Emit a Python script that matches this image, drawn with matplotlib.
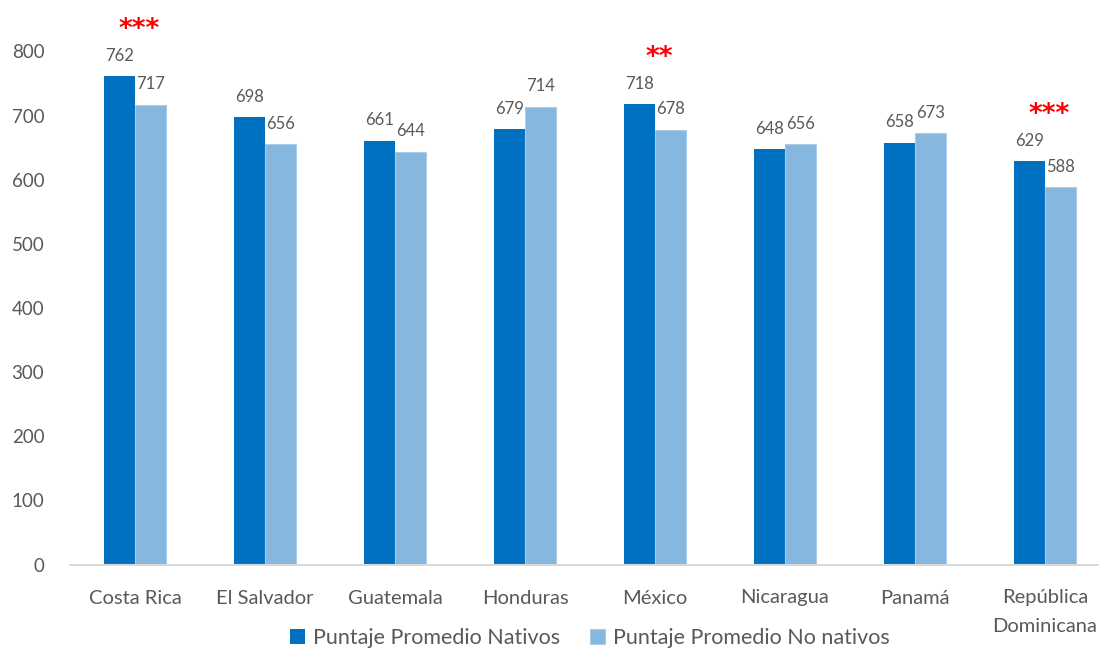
import matplotlib.pyplot as plt
import numpy as np

# Data
countries = ['Costa Rica', 'El Salvador', 'Guatemala', 'Honduras', 'México',
             'Nicaragua', 'Panamá', 'República\nDominicana']
nativos = [762, 698, 661, 679, 718, 648, 658, 629]
no_nativos = [717, 656, 644, 714, 678, 656, 673, 588]
stars = ['***', '', '', '', '**', '', '', '***']
series_names = ['Puntaje Promedio Nativos', 'Puntaje Promedio No nativos']

plt.rcParams['font.family'] = ['Lato', 'DejaVu Sans']
text_color = '#595959'

fig = plt.figure(figsize=(10.99, 6.52), dpi=100)
ax = fig.add_axes([70 / 1099, 87.5 / 652, 1040 / 1099, 513 / 652])

x = np.arange(len(countries))
w = 0.24
b1 = ax.bar(x - w / 2, nativos, w, color='#0070C0', label=series_names[0])
b2 = ax.bar(x + w / 2, no_nativos, w, color='#85B7DF', edgecolor='#A9CDEB',
            linewidth=0.8, label=series_names[1])

# data labels
for bars, vals in [(b1, nativos), (b2, no_nativos)]:
    for rect, v in zip(bars, vals):
        ax.annotate(str(v), (rect.get_x() + rect.get_width() / 2, v),
                    xytext=(0, 11), textcoords='offset points',
                    ha='center', va='baseline', fontsize=12, color=text_color)

# significance stars
for i, s in enumerate(stars):
    if s:
        top = max(nativos[i], no_nativos[i])
        ax.text(i + 0.03, top + 72, s, ha='center', va='center', fontsize=19,
                fontweight='bold', color='red', family='DejaVu Sans',
                clip_on=False)

ax.set_xlim(-0.5, len(countries) - 0.5)
ax.set_ylim(0, 800)
ax.set_yticks(range(0, 801, 100))
ax.set_xticks(x)
ax.set_xticklabels(countries, linespacing=1.8)
ax.tick_params(axis='both', length=0, colors=text_color)
ax.tick_params(axis='y', pad=18.5, labelsize=13.5)
ax.tick_params(axis='x', pad=18, labelsize=14.5)

for sp in ['top', 'right', 'left']:
    ax.spines[sp].set_visible(False)
ax.spines['bottom'].set_color('#D9D9D9')
ax.spines['bottom'].set_linewidth(1.5)

ax.legend(loc='center', bbox_to_anchor=(0.5, (14 - 87.5) / 513),
          ncol=2, frameon=False, fontsize=15.5, handlelength=0.7,
          handleheight=0.7, handletextpad=0.35, columnspacing=1.4,
          labelcolor=text_color, borderpad=0)

fig.savefig('out.png', dpi=100)
